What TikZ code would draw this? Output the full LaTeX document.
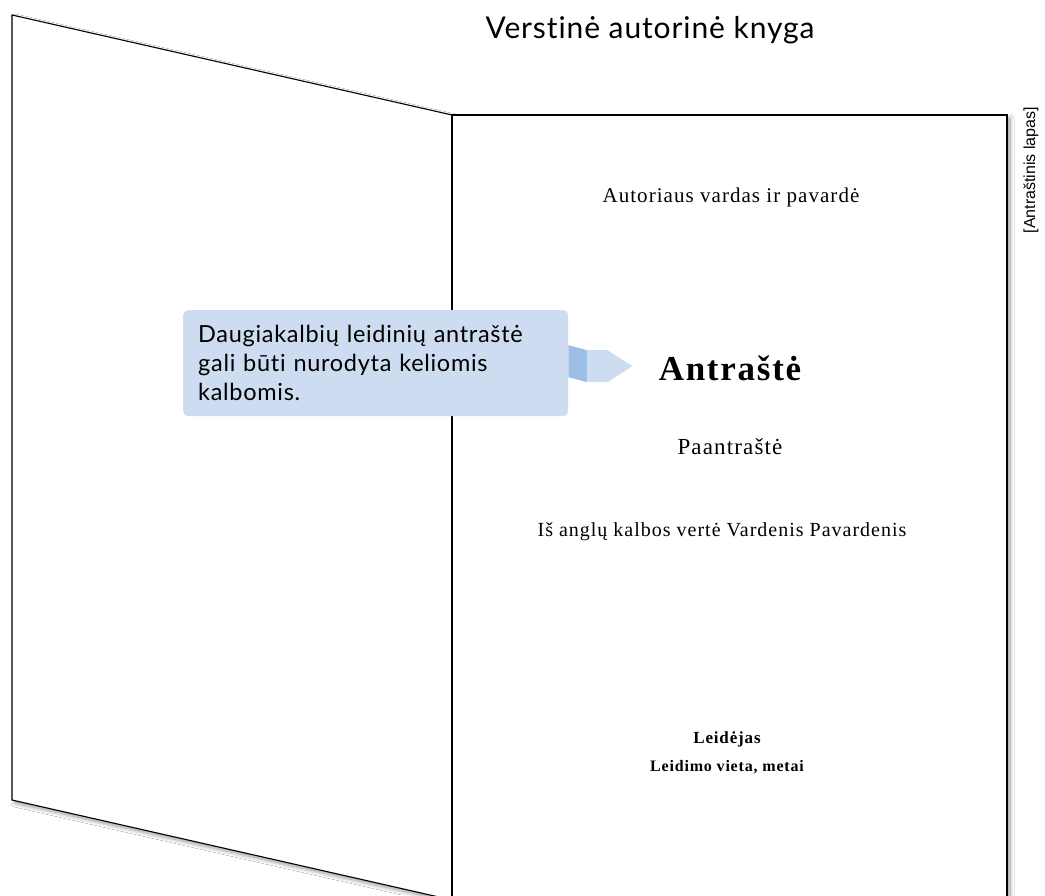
\documentclass[tikz,border=0pt]{standalone}
\usepackage{fontspec}
\setmainfont{Liberation Serif}[LetterSpace=5]
\setsansfont{Lato}[LetterSpace=3, Ligatures=NoCommon]
\newfontfamily\sheetfont{Liberation Sans}
\usetikzlibrary{shadows.blur, positioning}

\definecolor{noteblue}{HTML}{CDDCF0}
\definecolor{tabblue}{HTML}{9DBEE6}

\begin{document}
\begin{tikzpicture}[x=1pt, y=-1pt,
  page/.style={draw=black, fill=white, line width=1.1pt,
    blur shadow={shadow xshift=3pt, shadow yshift=-3pt, shadow blur steps=8, shadow blur radius=4pt, shadow opacity=40}},
  pagetext/.style={font=\fontsize{#1}{#1}\selectfont, inner sep=0pt},
  boldtext/.style={font=\bfseries\fontsize{#1}{#1}\selectfont, inner sep=0pt},
  note/.style={fill=noteblue, rounded corners=5pt, anchor=north west,
    minimum width=385pt, minimum height=106pt, text width=355pt, inner xsep=15pt,
    align=left, font=\sffamily\fontsize{23.5}{29}\selectfont}]
\def\fold{452}

\clip (0,0) rectangle (1045,895);
\fill[white] (0,0) rectangle (1045,895);

% left page, turned
\draw[page] (12,15) -- (\fold,115) -- (\fold,900) -- (12,800) -- cycle;
% title page
\draw[page] (\fold,115) rectangle (1007,925);

\node[font=\sffamily\fontsize{30}{32}\selectfont] (title) at (650,30) {Verstinė autorinė knyga};
\node[rotate=90, font=\sheetfont\fontsize{16}{17}\selectfont] (sheet) at (1031,170) {[Antraštinis lapas]};

\node[pagetext=21] (author) at (731,197) {Autoriaus vardas ir pavardė};
\node[boldtext=35] (head) at (730,368) {Antraštė};
\node[pagetext=23] (subhead) at (730,447) {Paantraštė};
\node[pagetext=20] (translator) at (722,532) {Iš anglų kalbos vertė Vardenis Pavardenis};
\node[boldtext=17] (publisher) at (727,739) {Leidėjas};
\node[boldtext=16] (place) at (727,767) {Leidimo vieta, metai};

% callout
\node[note] (callout) at (183,310) {Daugiakalbių leidinių antraštė\\ gali būti nurodyta keliomis\\ kalbomis.};
\fill[tabblue] ([yshift=18pt]callout.east) -- ++(19,5) -- ++(0,32) -- ++(-19,-5) -- cycle;
\fill[noteblue] ([shift={(19,-13)}]callout.east) -- ++(20,0) -- ++(25,16) -- ++(-25,16) -- ++(-20,0) -- cycle;

\end{tikzpicture}
\end{document}
